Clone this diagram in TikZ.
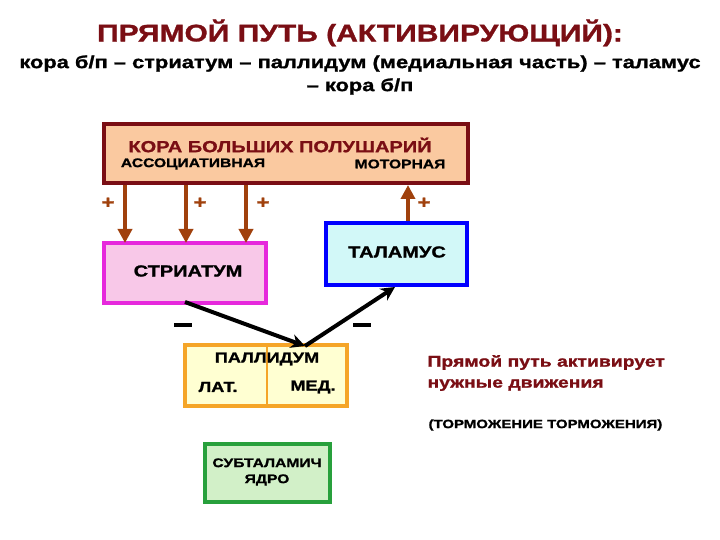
\documentclass[tikz,border=0pt]{standalone}
\usepackage{fontspec}
\setmainfont{Liberation Sans}
\newfontfamily\wide[FakeStretch=1.25,FakeBold=1.2]{Liberation Sans Bold}
\usetikzlibrary{arrows.meta}
\definecolor{dred}{HTML}{7A0E14}
\definecolor{brn}{HTML}{A0410D}
\begin{document}
\begin{tikzpicture}[x=1pt,y=-1pt,
  box/.style={line width=3.5pt},
  up/.style={brn,line width=4pt,-{Triangle[length=14pt,width=14pt]}},
  blk/.style={black,line width=4pt,-{Stealth[length=14pt,width=14pt]}},
  sgn/.style={font=\wide\fontsize{18}{18}\selectfont,brn}]
\useasboundingbox (0,0) rectangle (720,540);
\node[font=\wide\fontsize{24}{28}\selectfont,dred] (t) at (360,33) {ПРЯМОЙ ПУТЬ (АКТИВИРУЮЩИЙ):};
\node[font=\wide\fontsize{17.5}{23}\selectfont,align=center] (s) at (360,75) {кора б/п – стриатум – паллидум (медиальная часть) – таламус\\– кора б/п};
\draw[box,draw=dred,fill={rgb,255:red,250;green,201;blue,160}] (104,124) rectangle (468,183);
\node[dred,font=\wide\fontsize{16}{18}\selectfont] (k) at (280,145) {КОРА БОЛЬШИХ ПОЛУШАРИЙ};
\node[font=\wide\fontsize{12.5}{14}\selectfont] (as) at (193,164) {АССОЦИАТИВНАЯ};
\node[font=\wide\fontsize{12.5}{14}\selectfont] (mo) at (400,164) {МОТОРНАЯ};
\coordinate (c1) at (125,185); \coordinate (c2) at (186,185); \coordinate (c3) at (246,185); \coordinate (c4) at (408,185);
\draw[box,draw={rgb,255:red,230;green,40;blue,220},fill={rgb,255:red,248;green,200;blue,232}] (104,243) rectangle (266,303);
\node[font=\wide\fontsize{16}{18}\selectfont] (st) at (188,271) {СТРИАТУМ};
\draw[box,draw=blue,fill={rgb,255:red,210;green,248;blue,248}] (326,223) rectangle (467,285);
\node[font=\wide\fontsize{16}{18}\selectfont] (th) at (397,252) {ТАЛАМУС};
\coordinate (s1) at (125,243); \coordinate (s2) at (186,243); \coordinate (s3) at (246,243); \coordinate (t4) at (408,221);
\draw[up] (c1) -- (s1); \draw[up] (c2) -- (s2); \draw[up] (c3) -- (s3); \draw[up] (t4) -- (c4);
\node[sgn] (p1) at (108,203) {+}; \node[sgn] (p2) at (200,203) {+}; \node[sgn] (p3) at (263,203) {+}; \node[sgn] (p4) at (424,203) {+};
\draw[box,draw={rgb,255:red,245;green,165;blue,40},fill={rgb,255:red,255;green,255;blue,210}] (185,345) rectangle (347,406);
\draw[line width=2pt,draw={rgb,255:red,245;green,165;blue,40}] (267,345) -- (267,406);
\node[font=\wide\fontsize{14.5}{16}\selectfont] (pa) at (267,359) {ПАЛЛИДУМ};
\node[font=\wide\fontsize{14.5}{16}\selectfont] (la) at (218,387) {ЛАТ.};
\node[font=\wide\fontsize{14.5}{16}\selectfont] (me) at (313,387) {МЕД.};
\coordinate (sb) at (185,302); \coordinate (pm) at (305,346); \coordinate (tb) at (395,287);
\draw[blk] (sb) -- (pm); \draw[blk] (pm) -- (tb);
\draw[line width=4pt] (174,325) -- (192,325); \draw[line width=4pt] (353,325) -- (371,325);
\node[anchor=west,align=left,dred,font=\wide\fontsize{15.5}{21}\selectfont] (r) at (424,373) {Прямой путь активирует\\нужные движения};
\node[anchor=west,font=\wide\fontsize{12}{14}\selectfont] (r2) at (425,425) {(ТОРМОЖЕНИЕ ТОРМОЖЕНИЯ)};
\draw[box,draw={rgb,255:red,40;green,160;blue,60},fill={rgb,255:red,210;green,240;blue,200}] (205,444) rectangle (330,502);
\node[align=center,font=\wide\fontsize{12.5}{16}\selectfont] (su) at (267,472) {СУБТАЛАМИЧ\\ЯДРО};
\end{tikzpicture}
\end{document}
